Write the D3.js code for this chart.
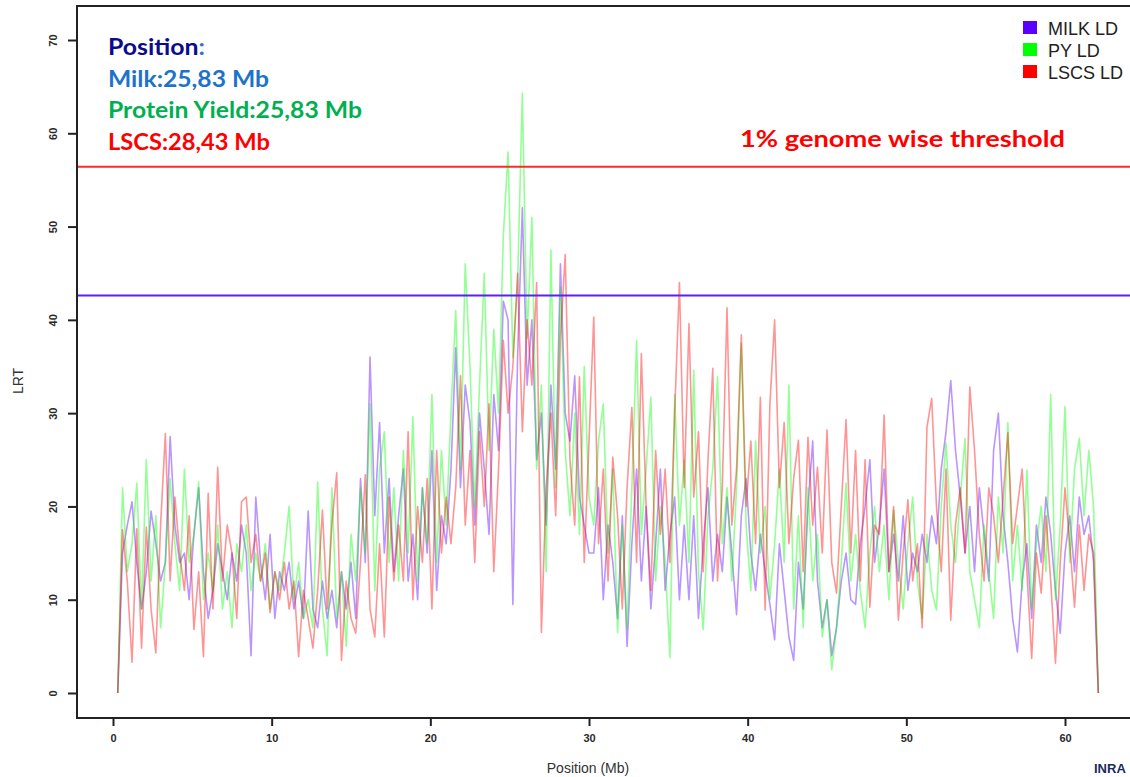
<!DOCTYPE html>
<html>
<head>
<meta charset="utf-8">
<script src="https://cdn.jsdelivr.net/npm/d3@7"></script>
<style>
    html, body { margin: 0; padding: 0; background: #fff; }
    svg { display: block; }
    .tick-label { font-family: "Liberation Sans", Arial, sans-serif; font-size: 11px; font-weight: bold; fill: #2a2a2a; }
    .axis-title { font-family: "Liberation Sans", Arial, sans-serif; font-size: 14px; fill: #333; }
    .note { font-family: Lato, "Open Sans", sans-serif; font-weight: bold; font-size: 23px; }
    .legend-label { font-family: "Liberation Sans", Arial, sans-serif; font-size: 18px; fill: #222; }
</style>
</head>
<body>
<svg id="chart" width="1130" height="777"></svg>
<script>
(function() {

// LRT profiles, one value every posStep Mb starting at posStart
const posStart = 0.3
    , posStep = 0.3;

const milkLD = [
    0, 15, 18, 20.5, 14, 9, 13, 19.5, 16, 12,
    14, 27.5, 18, 14, 15, 10, 17, 22, 13, 8,
    11, 16, 13, 10, 15, 12, 18, 15, 4, 21,
    14, 10, 17, 8, 13, 11, 14, 9, 12, 8,
    19.5, 9, 7, 12, 8, 11, 7, 13, 9, 14,
    8, 23, 14, 36, 19, 29, 15, 23, 13, 19,
    24, 12, 17, 10, 22, 15, 26, 11, 19, 16,
    24, 37, 22, 33, 29, 18, 30, 24, 17, 32,
    26, 42, 40, 9.5, 36, 52, 33, 40, 25, 30,
    18, 33, 24, 46, 30, 27, 34, 21, 18, 15,
    15, 22, 10, 18, 14, 8, 19, 5, 16, 24,
    12, 20, 9, 16, 24, 11, 17, 21, 10, 18,
    10, 19, 8, 16, 22, 12, 17, 13, 21, 15,
    8.4, 19, 23, 15, 11, 17, 13, 9.5, 5.7, 16,
    11, 6, 3.5, 14, 9, 20, 27, 12, 7, 10,
    4, 7, 12, 15, 10, 9.5, 16, 20, 25, 14,
    18, 24, 13, 17, 12, 19, 11, 15, 13, 17,
    14, 19, 16, 24, 28, 33.5, 26, 21, 15, 20,
    13, 22, 17, 12, 26, 30, 19, 14, 8, 4.4,
    12, 16, 8, 18, 14, 21, 17, 11, 6.4, 15,
    19, 13, 21, 17, 19, 14, 0
];

const pyLD = [
    0, 22, 13, 16, 22.5, 9, 25, 12, 19, 7,
    14, 23, 16, 11, 24, 14, 17, 22.6, 10, 15,
    11, 18, 9, 13, 7, 16, 13, 18, 11, 15,
    12, 16, 9, 13, 11, 15, 20, 10, 14, 8,
    10, 7, 22.6, 9, 4, 22, 8, 13, 5, 17,
    12, 22, 15, 31, 11, 24, 28, 14, 22, 12,
    26, 15, 29.6, 12, 22, 16, 32, 14, 26, 18,
    30, 41, 24, 46, 35, 20, 33, 45, 26, 39,
    30, 49, 58, 36, 44, 64.3, 38, 51, 24, 33,
    13, 47.5, 22, 43.5, 26, 19, 30, 17, 35, 21,
    18, 27, 31, 15, 24, 6.5, 18, 7, 22, 37.8,
    17, 24, 31.7, 12, 20, 14, 3.8, 32, 18, 25,
    14, 34.6, 13, 6.8, 19, 24, 33.9, 16, 22, 12,
    22, 37.5, 18, 11, 27, 15, 20, 10, 16, 24,
    14, 33, 9, 19, 7, 22, 12, 17, 6, 10,
    2.5, 7, 14, 22.5, 12, 17, 11, 7, 15, 20,
    13, 18, 10, 19.6, 14, 9, 16, 21, 12, 8,
    17, 11, 8.9, 20, 26.8, 18, 14, 21, 27.3, 13,
    10, 7, 18, 13, 8, 21, 15, 29, 12, 18,
    11, 23.9, 9, 16, 20, 13, 32, 10, 18, 30.7,
    14, 24, 27.3, 19, 26, 20, 0
];

const lscsLD = [
    0, 17.5, 12, 3.3, 17.6, 4.8, 17.8, 9, 4.3, 18,
    27.8, 12, 21, 15, 11, 19, 6.8, 13, 3.9, 21.4,
    9, 24.2, 12, 18, 15, 8, 20.5, 21, 14, 17,
    12, 15, 8.6, 13, 10, 14, 9, 12, 3.9, 11,
    8, 4.8, 11, 19.6, 9, 18.2, 23.6, 3.5, 12, 8,
    6.4, 14, 23.4, 9, 6, 16, 6, 21, 12, 18,
    12, 28, 10, 20, 14, 23, 9, 26, 15, 21,
    16, 22, 34, 18, 26, 14, 28, 20, 31, 13,
    24, 37.8, 30, 35, 45, 28, 40, 33, 44, 6.5,
    22, 30, 19, 38, 47, 25, 18, 33.9, 14, 27,
    40.3, 16, 24, 12, 25.3, 19, 9, 22, 30.6, 14,
    36.4, 20, 11, 26, 17, 24, 14, 30, 44, 22,
    39.6, 21, 28, 13, 25, 34.8, 12, 22, 41.3, 18,
    24, 38.4, 20, 27, 16, 31.7, 8.9, 30.9, 40, 22,
    29, 16, 23, 27.1, 13, 27.4, 18, 24.2, 15, 28.2,
    14, 10.7, 20, 29.3, 15, 26, 12, 25, 9.2, 18,
    17, 29.8, 13, 20, 7.8, 15, 20.7, 12, 16, 7,
    28.5, 31.6, 20, 13, 24, 7.8, 18, 22, 15, 32.8,
    26, 17, 12, 22, 19, 14, 21, 27.9, 16, 20,
    24, 13, 3.7, 15, 10.7, 19, 12, 3.2, 14, 22,
    16, 9.2, 18, 11, 17, 15, 0
];

const seriesNames = ["MILK LD", "PY LD", "LSCS LD"]
    , seriesColors = ["#5a00ff", "#00ff00", "#ff0000"];

const xTicks = [0, 10, 20, 30, 40, 50, 60]
    , yTicks = [0, 10, 20, 30, 40, 50, 60, 70];

// 1% genome wise thresholds (LSCS, MILK)
const thresholdValues = [56.4, 42.6]
    , thresholdColors = ["#ff2a2a", "#5a1fff"];

const notes = [
    { text: "Position", extra: ":", color: "#0b0b8c", extraColor: "#3a6fd8", width: 97 },
    { text: "Milk:25,83 Mb", color: "#1e73c8", width: 161 },
    { text: "Protein Yield:25,83 Mb", color: "#00b050", width: 254 },
    { text: "LSCS:28,43 Mb", color: "#ff0000", width: 162 }
];

const svg = d3.select("#chart")
    , frame = { left: 77, top: 6, right: 1140, bottom: 718 };

const x = d3.scaleLinear().domain([0, 60]).range([113, 1065])
    , y = d3.scaleLinear().domain([0, 70]).range([693, 40]);

const positions = milkLD.map((d, i) => +(posStart + i * posStep).toFixed(2));

drawSeries();
drawThresholds();
drawAxes();
drawNotes();
drawLegend();

/**
 * Draw the three LRT profiles
 */

function drawSeries() {
    svg.append("clipPath")
        .attr("id", "plot-clip")
        .append("rect")
        .attr("x", frame.left)
        .attr("y", frame.top)
        .attr("width", frame.right - frame.left)
        .attr("height", frame.bottom - frame.top);

    const line = d3.line()
        .x((d, i) => x(positions[i]))
        .y((d) => y(d));

    svg.append("g")
        .attr("clip-path", "url(#plot-clip)")
        .selectAll("path")
        .data([milkLD, pyLD, lscsLD])
        .enter().append("path")
        .attr("d", line)
        .attr("fill", "none")
        .attr("stroke", (d, i) => seriesColors[i])
        .attr("stroke-width", 1.6)
        .attr("stroke-opacity", 0.42)
        .attr("stroke-linejoin", "round");
}

function drawThresholds() {
    svg.append("g")
        .selectAll("line")
        .data(thresholdValues)
        .enter().append("line")
        .attr("x1", frame.left)
        .attr("x2", frame.right)
        .attr("y1", (d) => y(d))
        .attr("y2", (d) => y(d))
        .attr("stroke", (d, i) => thresholdColors[i])
        .attr("stroke-width", 2);

    svg.append("text")
        .attr("class", "note")
        .attr("x", 740)
        .attr("y", 147)
        .attr("font-size", 25)
        .attr("textLength", 325)
        .attr("lengthAdjust", "spacingAndGlyphs")
        .attr("fill", "#ff0000")
        .text("1% genome wise threshold");
}

/**
 * Frame, ticks and axis titles, R style
 */

function drawAxes() {
    svg.append("rect")
        .attr("x", frame.left)
        .attr("y", frame.top)
        .attr("width", frame.right - frame.left)
        .attr("height", frame.bottom - frame.top)
        .attr("fill", "none")
        .attr("stroke", "#222")
        .attr("stroke-width", 2);

    const xAxis = svg.append("g")
        .attr("transform", "translate(0," + frame.bottom + ")")
        .call(d3.axisBottom(x).tickValues(xTicks).tickSize(8).tickPadding(8));

    const yAxis = svg.append("g")
        .attr("transform", "translate(" + frame.left + ",0)")
        .call(d3.axisLeft(y).tickValues(yTicks).tickSize(9).tickPadding(0));

    [xAxis, yAxis].forEach(function(g) {
        g.attr("font-size", null).attr("font-family", null);
        g.select(".domain").remove();
        g.selectAll(".tick line").attr("stroke", "#222").attr("stroke-width", 2);
        g.selectAll(".tick text")
            .attr("class", "tick-label")
            .attr("fill", null);
    });

    // y labels run along the axis
    yAxis.selectAll(".tick text")
        .attr("x", null)
        .attr("dy", null)
        .attr("text-anchor", "middle")
        .attr("transform", "translate(-20,0) rotate(-90)");

    svg.append("text")
        .attr("class", "axis-title")
        .attr("text-anchor", "middle")
        .attr("transform", "translate(23,381) rotate(-90)")
        .text("LRT");

    svg.append("text")
        .attr("class", "axis-title")
        .attr("text-anchor", "middle")
        .attr("x", 588)
        .attr("y", 773)
        .text("Position (Mb)");

    svg.append("text")
        .attr("x", 1094)
        .attr("y", 773)
        .attr("font-family", "Liberation Sans, Arial, sans-serif")
        .attr("font-weight", "bold")
        .attr("font-size", 13)
        .attr("fill", "#1b2a5c")
        .text("INRA");
}

function drawNotes() {
    const texts = svg.append("g")
        .selectAll("text")
        .data(notes)
        .enter().append("text")
        .attr("class", "note")
        .attr("x", 108)
        .attr("y", (d, i) => 55 + i * 31.7)
        .attr("textLength", (d) => d.width)
        .attr("lengthAdjust", "spacingAndGlyphs");

    texts.append("tspan")
        .attr("fill", (d) => d.color)
        .text((d) => d.text);

    texts.filter((d) => d.extra)
        .append("tspan")
        .attr("fill", (d) => d.extraColor)
        .text((d) => d.extra);
}

function drawLegend() {
    const items = svg.append("g")
        .attr("transform", "translate(1023,21)")
        .selectAll("g")
        .data(seriesNames)
        .enter().append("g")
        .attr("transform", (d, i) => "translate(0," + (i * 22) + ")");

    items.append("rect")
        .attr("width", 14)
        .attr("height", 13)
        .attr("fill", (d, i) => seriesColors[i]);

    items.append("text")
        .attr("class", "legend-label")
        .attr("x", 25)
        .attr("y", 13.5)
        .text((d) => d);
}

})();
</script>
</body>
</html>
